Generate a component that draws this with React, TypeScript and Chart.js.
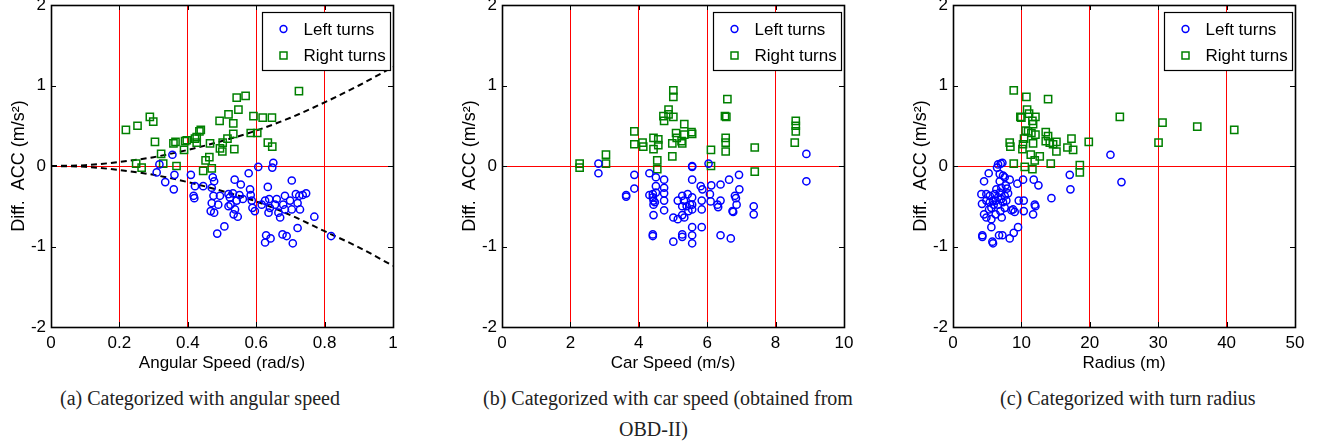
import React, { useEffect, useRef } from 'react';
import { Chart, registerables } from 'chart.js';

Chart.register(...registerables);

const SANS = "'Liberation Sans', Arial, sans-serif";
const SERIF = "'Liberation Serif', 'Times New Roman', serif";

// ---------- Panel (a): angular speed ----------
const leftTurnsAngular: [number, number][] = [
  [0.309, -0.08], [0.317, 0.02], [0.334, -0.2], [0.355, 0.14], [0.361, -0.11], [0.359, -0.29],
  [0.409, -0.11], [0.417, -0.37], [0.419, -0.4], [0.421, -0.25], [0.445, -0.25], [0.473, -0.14],
  [0.477, -0.19], [0.47, -0.27], [0.475, -0.37], [0.494, -0.37], [0.47, -0.46], [0.467, -0.56],
  [0.477, -0.58], [0.489, -0.48], [0.486, -0.84], [0.507, -0.75], [0.519, -0.35], [0.519, -0.5],
  [0.523, -0.39], [0.525, -0.48], [0.532, -0.34], [0.534, -0.6], [0.538, -0.54], [0.537, -0.17],
  [0.555, -0.23], [0.543, -0.43], [0.546, -0.63], [0.551, -0.36], [0.561, -0.41], [0.578, -0.09],
  [0.582, -0.29], [0.584, -0.36], [0.587, -0.43], [0.589, -0.52], [0.596, -0.56], [0.606, -0.01],
  [0.616, -0.48], [0.626, -0.43], [0.634, -0.26], [0.636, -0.58], [0.64, -0.52], [0.638, -0.41],
  [0.629, -0.86], [0.626, -0.95], [0.642, -0.9], [0.647, -0.02], [0.65, 0.04], [0.655, -0.48],
  [0.66, -0.41], [0.665, -0.58], [0.67, -0.64], [0.677, -0.85], [0.689, -0.87], [0.679, -0.48],
  [0.684, -0.54], [0.684, -0.37], [0.699, -0.43], [0.704, -0.18], [0.704, -0.54], [0.707, -0.96],
  [0.716, -0.35], [0.721, -0.46], [0.721, -0.77], [0.726, -0.37], [0.728, -0.54], [0.736, -0.36],
  [0.746, -0.34], [0.77, -0.63], [0.819, -0.87],
];
const rightTurnsAngular: [number, number][] = [
  [0.219, 0.45], [0.253, 0.5], [0.289, 0.61], [0.299, 0.55], [0.304, 0.3], [0.322, 0.15],
  [0.328, 0.03], [0.249, 0.03], [0.265, -0.02], [0.358, 0.28], [0.364, 0.3], [0.367, 0.0],
  [0.392, 0.31], [0.397, 0.32], [0.389, 0.2], [0.421, 0.34], [0.426, 0.36], [0.426, 0.29],
  [0.434, 0.43], [0.438, 0.45], [0.465, 0.28], [0.452, 0.07], [0.463, 0.11], [0.47, -0.03],
  [0.445, -0.06], [0.493, 0.56], [0.519, 0.64], [0.502, 0.29], [0.494, 0.22], [0.501, 0.18],
  [0.516, 0.34], [0.543, 0.85], [0.569, 0.87], [0.548, 0.7], [0.533, 0.53], [0.533, 0.4],
  [0.536, 0.21], [0.592, 0.62], [0.619, 0.6], [0.646, 0.6], [0.584, 0.41], [0.603, 0.41],
  [0.634, 0.29], [0.647, 0.24], [0.725, 0.93],
];
const boundX = [0, 0.1, 0.2, 0.3, 0.4, 0.5, 0.6, 0.7, 0.8, 0.9, 1.0];
const boundUpper = [0, 0.01, 0.05, 0.11, 0.2, 0.31, 0.44, 0.6, 0.79, 1.0, 1.23];
const boundLower = [0, -0.01, -0.05, -0.11, -0.2, -0.31, -0.44, -0.61, -0.81, -1.01, -1.24];

// ---------- Panel (b): car speed ----------
const leftTurnsSpeed: [number, number][] = [
  [2.82, 0.03], [2.82, -0.09], [3.63, -0.36], [3.63, -0.38], [3.87, -0.11], [3.87, -0.28],
  [4.31, -0.09], [4.31, -0.36], [4.41, -0.35], [4.41, -0.39], [4.43, -0.43], [4.43, -0.48],
  [4.43, -0.61], [4.41, -0.85], [4.41, -0.87], [4.5, -0.14], [4.5, -0.25], [4.5, -0.33],
  [4.47, -0.45], [4.74, -0.17], [4.74, -0.27], [4.74, -0.34], [4.74, -0.43], [4.74, -0.55],
  [5.01, -0.64], [5.01, -0.94], [5.14, -0.43], [5.14, -0.66], [5.27, -0.37], [5.27, -0.5],
  [5.27, -0.61], [5.27, -0.85], [5.27, -0.88], [5.32, -0.43], [5.33, -0.64], [5.4, -0.5],
  [5.43, -0.35], [5.45, -0.56], [5.5, -0.48], [5.56, 0.0], [5.56, -0.01], [5.56, -0.17],
  [5.56, -0.39], [5.56, -0.48], [5.56, -0.54], [5.56, -0.76], [5.56, -0.86], [5.56, -0.96],
  [5.81, -0.25], [5.86, -0.29], [5.84, -0.43], [5.84, -0.54], [5.84, -0.76], [6.04, 0.03],
  [6.08, -0.35], [6.12, -0.24], [6.1, -0.44], [6.3, -0.48], [6.32, -0.51], [6.39, -0.23],
  [6.39, -0.43], [6.39, -0.86], [6.64, -0.17], [6.69, -0.9], [6.74, -0.56], [6.76, -0.57],
  [6.81, -0.37], [6.84, -0.4], [6.86, -0.48], [6.93, -0.11], [6.94, -0.29], [7.36, -0.5],
  [7.36, -0.6], [8.9, 0.15], [8.9, -0.19],
];
const rightTurnsSpeed: [number, number][] = [
  [2.27, 0.03], [2.27, -0.02], [3.04, 0.14], [3.04, 0.03], [3.87, 0.43], [3.87, 0.27],
  [4.11, 0.29], [4.13, 0.24], [4.43, 0.35], [4.43, 0.21], [4.57, 0.33], [4.57, 0.26],
  [4.54, 0.07], [4.54, -0.04], [4.72, 0.62], [4.74, 0.56], [4.87, 0.7], [4.87, 0.64],
  [5.01, 0.94], [5.01, 0.86], [5.01, 0.61], [4.98, 0.28], [4.98, 0.12], [5.09, 0.41],
  [5.11, 0.35], [5.25, 0.31], [5.27, 0.28], [5.33, 0.52], [5.33, 0.39], [5.54, 0.42],
  [5.56, 0.4], [6.11, 0.2], [6.11, 0.0], [6.54, 0.35], [6.54, 0.29], [6.54, 0.18],
  [6.52, 0.62], [6.56, 0.61], [6.59, 0.83], [7.39, 0.23], [7.39, -0.07], [8.59, 0.56],
  [8.59, 0.5], [8.59, 0.43], [8.56, 0.29],
];

// ---------- Panel (c): turn radius ----------
const leftTurnsRadius: [number, number][] = [
  [23.02, 0.14], [24.63, -0.2], [17.07, -0.11], [17.17, -0.29], [14.39, -0.4], [10.24, -0.17],
  [11.8, -0.17], [12.49, -0.24], [11.95, -0.48], [12.05, -0.5], [11.71, -0.6], [10.34, -0.43],
  [10.34, -0.56], [9.61, -0.43], [9.41, -0.22], [9.51, -0.76], [8.88, -0.83], [8.29, -0.9],
  [7.22, -0.86], [6.73, -0.86], [5.76, -0.94], [5.85, -0.96], [4.29, -0.86], [4.29, -0.88],
  [4.54, -0.6], [4.24, -0.47], [4.15, -0.35], [4.54, -0.19], [5.22, -0.09], [6.59, 0.02],
  [6.98, 0.03], [7.22, 0.04], [6.44, -0.02], [6.83, -0.1], [7.32, -0.12], [7.56, -0.14],
  [8.29, -0.17], [7.71, -0.24], [7.9, -0.28], [8.05, -0.34], [4.88, -0.35], [4.88, -0.43],
  [5.37, -0.37], [5.61, -0.52], [5.95, -0.48], [6.24, -0.43], [6.59, -0.39], [6.34, -0.29],
  [6.83, -0.33], [7.07, -0.41], [7.32, -0.45], [7.56, -0.52], [6.93, -0.56], [7.12, -0.64],
  [6.24, -0.6], [5.61, -0.66], [4.88, -0.64], [5.61, -0.76], [8.78, -0.54], [9.02, -0.57],
  [8.54, -0.55], [7.56, -0.37], [7.8, -0.43], [6.59, -0.48], [5.27, -0.54], [5.85, -0.43],
  [5.37, -0.45], [6.1, -0.35], [7.07, -0.27], [6.83, -0.19],
];
const rightTurnsRadius: [number, number][] = [
  [8.88, 0.94], [10.73, 0.86], [13.9, 0.83], [10.83, 0.7], [11.12, 0.65], [9.85, 0.61],
  [10.0, 0.6], [12.05, 0.61], [11.61, 0.56], [11.71, 0.52], [10.63, 0.44], [10.98, 0.43],
  [11.46, 0.41], [12.05, 0.39], [13.56, 0.42], [13.9, 0.37], [13.56, 0.31], [14.15, 0.29],
  [14.63, 0.27], [15.12, 0.3], [15.12, 0.18], [10.39, 0.34], [10.24, 0.27], [10.15, 0.21],
  [11.71, 0.28], [8.29, 0.29], [8.39, 0.24], [11.37, 0.14], [12.68, 0.12], [11.95, 0.07],
  [8.88, 0.03], [10.49, -0.01], [11.61, -0.04], [14.29, 0.03], [16.73, 0.23], [17.32, 0.34],
  [17.56, 0.2], [18.54, 0.01], [18.54, -0.08], [19.85, 0.3], [24.39, 0.61], [30.05, 0.29],
  [30.63, 0.54], [35.71, 0.49], [41.12, 0.45],
];

const yTicks = [-2, -1, 0, 1, 2];
const Y_TITLE = 'Diff.  ACC (m/s\u00B2)';
const LEGEND_LABELS = ['Left turns', 'Right turns'];
const CAPTIONS = [
  '(a) Categorized with angular speed',
  '(b) Categorized with car speed (obtained from',
  'OBD-II)',
  '(c) Categorized with turn radius',
];

const BLUE = '#0000ff';
const GREEN = '#008000';

const framePlugin = {
  id: 'frame',
  afterDatasetsDraw(chart: any) {
    const { ctx, chartArea, scales } = chart;
    const { left, right, top, bottom } = chartArea;
    ctx.save();
    ctx.strokeStyle = '#000';
    ctx.lineWidth = 1;
    ctx.beginPath();
    scales.x.ticks.forEach((t: any) => {
      const px = Math.round(scales.x.getPixelForValue(t.value)) + 0.5;
      ctx.moveTo(px, bottom);
      ctx.lineTo(px, bottom - 5);
      ctx.moveTo(px, top);
      ctx.lineTo(px, top + 5);
    });
    scales.y.ticks.forEach((t: any) => {
      const py = Math.round(scales.y.getPixelForValue(t.value)) + 0.5;
      ctx.moveTo(left, py);
      ctx.lineTo(left + 5, py);
      ctx.moveTo(right, py);
      ctx.lineTo(right - 5, py);
    });
    ctx.stroke();
    ctx.lineWidth = 1.6;
    ctx.strokeRect(Math.round(left) + 0.5, Math.round(top) + 0.5, Math.round(right - left), Math.round(bottom - top));
    ctx.restore();
  },
};

const legendBoxPlugin = {
  id: 'legendBox',
  afterDraw(chart: any) {
    const { ctx, chartArea } = chart;
    const w = 128;
    const h = 58;
    const bx = Math.round(chartArea.right - 3 - w) + 0.5;
    const by = Math.round(chartArea.top + 7) + 0.5;
    ctx.save();
    ctx.fillStyle = '#fff';
    ctx.fillRect(bx, by, w, h);
    ctx.strokeStyle = '#000';
    ctx.lineWidth = 1.2;
    ctx.strokeRect(bx, by, w, h);
    const ds = chart.data.datasets;
    const rows = [by + 16.5, by + 43];
    [0, 1].forEach((i) => {
      const cy = rows[i];
      const cx = bx + 21;
      ctx.lineWidth = 1.5;
      ctx.strokeStyle = ds[i].borderColor;
      ctx.beginPath();
      if (i === 0) {
        ctx.arc(cx, cy, 3.4, 0, Math.PI * 2);
      } else {
        ctx.rect(cx - 3.5, cy - 3.5, 7, 7);
      }
      ctx.stroke();
      ctx.fillStyle = '#000';
      ctx.font = `17px ${SANS}`;
      ctx.textBaseline = 'middle';
      ctx.textAlign = 'left';
      ctx.fillText(ds[i].label, bx + 41, cy + 1);
    });
    ctx.restore();
  },
};

type PanelProps = {
  left: number;
  xMax: number;
  xStep: number;
  xTitle: string;
  xFmt: (v: number) => string;
  leftData: [number, number][];
  rightData: [number, number][];
  curves?: { x: number[]; y: number[] }[];
};

function Panel({ left, xMax, xStep, xTitle, xFmt, leftData, rightData, curves }: PanelProps) {
  const ref = useRef<HTMLCanvasElement | null>(null);
  useEffect(() => {
    if (!ref.current) return;
    const datasets: any[] = [
      {
        label: LEGEND_LABELS[0],
        data: leftData.map(([x, y]) => ({ x, y })),
        pointStyle: 'circle',
        pointRadius: 3.6,
        pointBorderWidth: 1.5,
        borderColor: BLUE,
        backgroundColor: 'rgba(0,0,0,0)',
        pointBackgroundColor: 'rgba(0,0,0,0)',
      },
      {
        label: LEGEND_LABELS[1],
        data: rightData.map(([x, y]) => ({ x, y })),
        pointStyle: 'rect',
        pointRadius: 5.1,
        pointBorderWidth: 1.5,
        borderColor: GREEN,
        backgroundColor: 'rgba(0,0,0,0)',
        pointBackgroundColor: 'rgba(0,0,0,0)',
      },
    ];
    (curves || []).forEach((c, i) => {
      datasets.push({
        label: 'bound' + i,
        data: c.x.map((x, k) => ({ x, y: c.y[k] })),
        showLine: true,
        pointRadius: 0,
        borderColor: '#000',
        borderWidth: 2,
        borderDash: [6, 4],
        cubicInterpolationMode: 'monotone',
        fill: false,
      });
    });
    const chart = new Chart(ref.current, {
      type: 'scatter',
      data: { datasets },
      plugins: [framePlugin, legendBoxPlugin],
      options: {
        responsive: false,
        animation: false,
        devicePixelRatio: 1,
        layout: { padding: { left: 0, right: 17, top: 17, bottom: 0 } },
        plugins: { legend: { display: false }, tooltip: { enabled: false } },
        scales: {
          x: {
            type: 'linear',
            min: 0,
            max: xMax,
            afterBuildTicks: (scale: any) => {
              const t = [];
              for (let v = 0; v <= xMax + 1e-9; v += xStep) t.push({ value: +v.toFixed(4) });
              scale.ticks = t;
            },
            ticks: {
              color: '#000',
              font: { family: SANS, size: 17 },
              padding: 6,
              maxRotation: 0,
              autoSkip: false,
              callback: (v: any) => xFmt(Number(v)),
            },
            grid: {
              drawTicks: false,
              color: (ctx: any) => {
                const v = ctx.tick ? ctx.tick.value : NaN;
                return v > 1e-9 && v < xMax - 1e-9 ? '#ff0000' : 'rgba(0,0,0,0)';
              },
              lineWidth: 1,
            },
            border: { display: false },
            title: {
              display: true,
              text: xTitle,
              color: '#000',
              font: { family: SANS, size: 17 },
              padding: { top: 0, bottom: 2 },
            },
            afterFit: (scale: any) => {
              scale.height = 49;
            },
          },
          y: {
            type: 'linear',
            min: -2,
            max: 2,
            afterBuildTicks: (scale: any) => {
              scale.ticks = yTicks.map((v) => ({ value: v }));
            },
            ticks: {
              color: '#000',
              font: { family: SANS, size: 17 },
              padding: 5,
              autoSkip: false,
              callback: (v: any) => String(v),
            },
            grid: {
              drawTicks: false,
              color: (ctx: any) => (ctx.tick && ctx.tick.value === 0 ? '#ff0000' : 'rgba(0,0,0,0)'),
              lineWidth: 1,
            },
            border: { display: false },
            title: {
              display: true,
              text: Y_TITLE,
              color: '#000',
              font: { family: SANS, size: 18 },
              padding: { top: 8, bottom: 0 },
            },
            afterFit: (scale: any) => {
              scale.width = 51;
            },
          },
        },
      } as any,
    });
    return () => chart.destroy();
  }, []);
  return (
    <canvas
      ref={ref}
      width={410}
      height={388}
      style={{ position: 'absolute', left, top: -12, width: 410, height: 388 }}
    />
  );
}

const captionStyle: React.CSSProperties = {
  position: 'absolute',
  fontFamily: SERIF,
  fontSize: 20,
  lineHeight: '20px',
  color: '#222',
  whiteSpace: 'nowrap',
};

export default function App() {
  return (
    <div
      style={{
        position: 'fixed',
        left: 0,
        top: 0,
        width: 1325,
        height: 442,
        background: '#fff',
        overflow: 'hidden',
      }}
    >
      <Panel
        left={0}
        xMax={1}
        xStep={0.2}
        xTitle="Angular Speed (rad/s)"
        xFmt={(v) => String(+v.toFixed(1))}
        leftData={leftTurnsAngular}
        rightData={rightTurnsAngular}
        curves={[
          { x: boundX, y: boundUpper },
          { x: boundX, y: boundLower },
        ]}
      />
      <Panel
        left={451}
        xMax={10}
        xStep={2}
        xTitle="Car Speed (m/s)"
        xFmt={(v) => String(Math.round(v))}
        leftData={leftTurnsSpeed}
        rightData={rightTurnsSpeed}
      />
      <Panel
        left={902}
        xMax={50}
        xStep={10}
        xTitle="Radius (m)"
        xFmt={(v) => String(Math.round(v))}
        leftData={leftTurnsRadius}
        rightData={rightTurnsRadius}
      />
      <div style={{ ...captionStyle, left: 60, top: 388 }}>{CAPTIONS[0]}</div>
      <div style={{ ...captionStyle, left: 483, top: 388 }}>{CAPTIONS[1]}</div>
      <div style={{ ...captionStyle, left: 619, top: 419 }}>{CAPTIONS[2]}</div>
      <div style={{ ...captionStyle, left: 1000, top: 388 }}>{CAPTIONS[3]}</div>
    </div>
  );
}
